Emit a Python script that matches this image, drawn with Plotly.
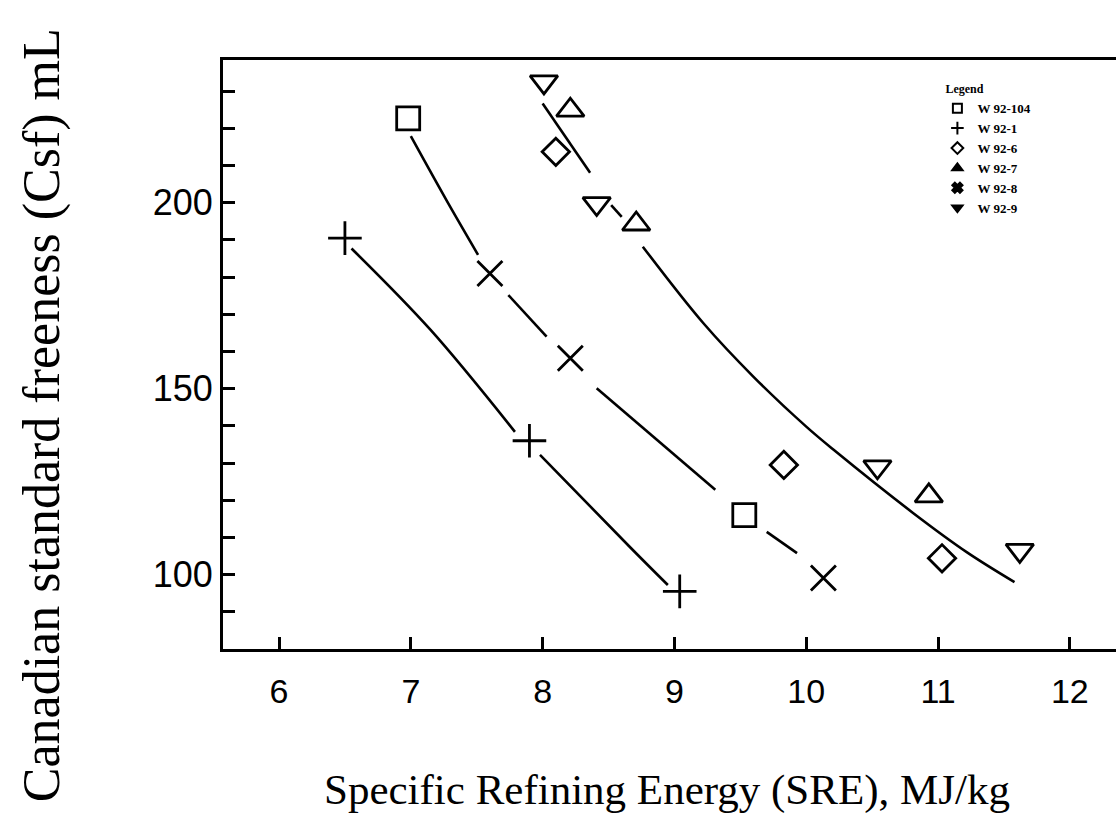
import plotly.graph_objects as go

# ---- data ----
series_names = ["W 92-104", "W 92-1", "W 92-6", "W 92-7", "W 92-8", "W 92-9"]

w92_104_x = [6.98, 9.53]
w92_104_y = [222.7, 116.0]

w92_1_x = [6.50, 7.90, 9.04]
w92_1_y = [190.5, 136.0, 95.5]

w92_6_x = [8.10, 9.83, 11.03]
w92_6_y = [213.7, 129.5, 104.4]

w92_7_x = [8.21, 8.71, 10.93]
w92_7_y = [224.9, 194.3, 121.2]

w92_8_x = [7.60, 8.21, 10.13]
w92_8_y = [181.0, 158.2, 99.1]

w92_9_x = [8.01, 8.41, 10.54, 11.62]
w92_9_y = [232.5, 199.8, 129.0, 106.5]

# fitted curves as drawn (broken around the markers)
curve_a_x = [6.55, 7.15, 7.79, None, 7.98, 8.66, 8.95]
curve_a_y = [187.7, 165.8, 138.4, None, 132.2, 107.5, 97.2]

curve_b_x = [7.00, 7.27, 7.51, None, 7.74, 8.03, None, 8.41, 9.31, None, 9.70, 9.93]
curve_b_y = [217.9, 200.7, 186.0, None, 175.2, 164.0, None, 150.1, 122.8, None, 111.5, 105.8]

curve_c_x = [8.00, 8.36, None, 8.52, 8.60, None, 8.76, 9.22, 9.60, 10.00, 10.21, 10.81, 11.22, 11.58]
curve_c_y = [226.7, 208.1, None, 199.4, 196.2, None, 188.2, 167.6, 153.2, 139.8, 133.5, 116.6, 106.0, 98.0]

x_ticks = [6, 7, 8, 9, 10, 11, 12]
y_label_ticks = [100, 150, 200]

fig = go.Figure()

for cx, cy in [(curve_a_x, curve_a_y), (curve_b_x, curve_b_y), (curve_c_x, curve_c_y)]:
    fig.add_trace(go.Scatter(x=cx, y=cy, mode="lines", showlegend=False, hoverinfo="skip",
                             line=dict(color="black", width=2.6, shape="spline", smoothing=1.0)))

plot_markers = [
    (w92_104_x, w92_104_y, "square-open", 23),
    (w92_1_x, w92_1_y, "cross-thin-open", 24),
    (w92_6_x, w92_6_y, "diamond-open", 21),
    (w92_7_x, w92_7_y, "triangle-up-open", 24),
    (w92_8_x, w92_8_y, "x-thin-open", 25),
    (w92_9_x, w92_9_y, "triangle-down-open", 24),
]
for (mx, my, sym, sz), name in zip(plot_markers, series_names):
    fig.add_trace(go.Scatter(x=mx, y=my, mode="markers", name=name, showlegend=False,
                             marker=dict(symbol=sym, size=sz, color="black",
                                         line=dict(color="black", width=2.8))))

legend_symbols = ["square-open", "cross-thin-open", "diamond-open", "triangle-up", "x", "triangle-down"]
for name, sym in zip(series_names, legend_symbols):
    fig.add_trace(go.Scatter(x=[None], y=[None], mode="markers", name=name,
                             marker=dict(symbol=sym, size=9, color="black",
                                         line=dict(color="black", width=2))))

fig.update_layout(
    width=1116, height=833,
    margin=dict(l=223, r=0, t=60, b=184),
    paper_bgcolor="white", plot_bgcolor="white",
    font=dict(family="Liberation Sans, Arial, sans-serif", color="black"),
    showlegend=True,
    legend=dict(x=0.80, y=0.97, xanchor="left", yanchor="top",
                bgcolor="rgba(0,0,0,0)", borderwidth=0,
                itemwidth=30, tracegroupgap=0,
                font=dict(family="Liberation Serif, serif", size=13, color="black", weight="bold"),
                title=dict(text="  Legend", font=dict(family="Liberation Serif, serif", size=12, weight="bold"))),
    xaxis=dict(range=[5.575, 12.35], tickmode="array", tickvals=x_ticks,
               ticks="inside", ticklen=12, tickwidth=2.5, tickcolor="black",
               showline=True, linecolor="black", linewidth=3, mirror=True,
               showgrid=False, zeroline=False,
               tickfont=dict(size=34, family="Liberation Sans, Arial, sans-serif"),
               ticklabelstandoff=10),
    yaxis=dict(range=[80.0, 238.4], tickmode="array", tickvals=y_label_ticks,
               ticks="inside", ticklen=12, tickwidth=2.5, tickcolor="black",
               minor=dict(tickmode="linear", tick0=80, dtick=10, ticks="inside",
                          ticklen=12, tickwidth=2.5, tickcolor="black", showgrid=False),
               showline=True, linecolor="black", linewidth=3, mirror=False,
               showgrid=False, zeroline=False,
               tickfont=dict(size=36, family="Liberation Sans, Arial, sans-serif"),
               ticklabelstandoff=0),
    annotations=[
        dict(text="Specific Refining Energy (SRE), MJ/kg", xref="paper", yref="paper",
             x=0.497, y=-0.239, xanchor="center", yanchor="middle", showarrow=False,
             font=dict(family="Liberation Serif, Times New Roman, serif", size=43, color="black")),
        dict(text="Canadian standard freeness (Csf) mL", xref="paper", yref="paper",
             x=(42 - 223) / 893, y=0.397, xanchor="center", yanchor="middle", textangle=-90,
             showarrow=False,
             font=dict(family="Liberation Serif, Times New Roman, serif", size=52, color="black")),
    ],
)

fig.write_html("out.html")
